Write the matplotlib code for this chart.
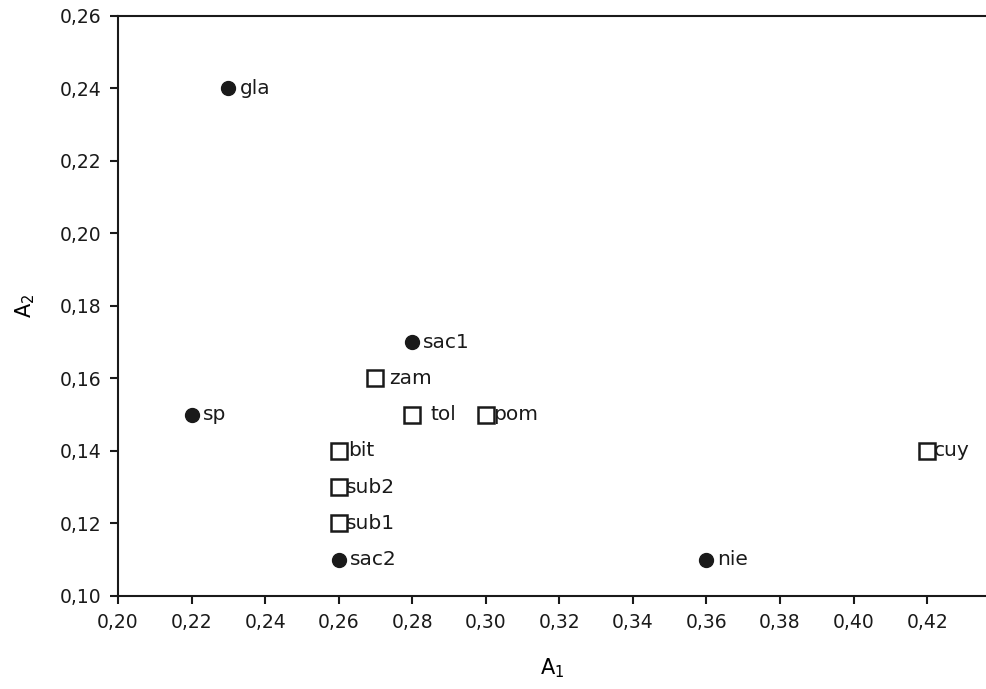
import matplotlib
matplotlib.use("Agg")
import matplotlib.pyplot as plt

plt.rcParams['font.family'] = ['DejaVu Sans']

# filled circles
circ_names = ["gla", "sp", "sac1", "sac2", "nie"]
circ_x = [0.23, 0.22, 0.28, 0.26, 0.36]
circ_y = [0.24, 0.15, 0.17, 0.11, 0.11]

# open squares
sq_names = ["zam", "tol", "pom", "bit", "sub2", "sub1", "cuy"]
sq_x = [0.27, 0.28, 0.30, 0.26, 0.26, 0.26, 0.42]
sq_y = [0.16, 0.15, 0.15, 0.14, 0.13, 0.12, 0.14]

xticks = [0.20, 0.22, 0.24, 0.26, 0.28, 0.30, 0.32, 0.34, 0.36, 0.38, 0.40, 0.42]
yticks = [0.10, 0.12, 0.14, 0.16, 0.18, 0.20, 0.22, 0.24, 0.26]

# label offsets in points (to the right of the marker)
sq_off = {"zam": 10, "tol": 13, "pom": 5, "bit": 7, "sub2": 5, "sub1": 5, "cuy": 5}

fig = plt.figure(figsize=(9.86, 6.89), dpi=100)
ax = fig.add_axes([0.1197, 0.135, 0.8803, 0.8418])

ax.plot(circ_x, circ_y, 'o', color='#1a1a1a', markersize=10, linestyle='none')
ax.plot(sq_x, sq_y, 's', markerfacecolor='white', markeredgecolor='#1a1a1a',
        markeredgewidth=1.8, markersize=11, linestyle='none')

for n, x, y in zip(circ_names, circ_x, circ_y):
    ax.annotate(n, (x, y), xytext=(8, 0), textcoords='offset points',
                va='center', ha='left', fontsize=14.5, color='#1a1a1a')
for n, x, y in zip(sq_names, sq_x, sq_y):
    ax.annotate(n, (x, y), xytext=(sq_off[n], 0), textcoords='offset points',
                va='center', ha='left', fontsize=14.5, color='#1a1a1a')

ax.set_xlim(0.20, 0.436)
ax.set_ylim(0.10, 0.26)
ax.set_xticks(xticks)
ax.set_xticklabels([f"{v:.2f}".replace('.', ',') for v in xticks])
ax.set_yticks(yticks)
ax.set_yticklabels([f"{v:.2f}".replace('.', ',') for v in yticks])
ax.tick_params(direction='out', length=6, width=1.5, labelsize=13.5, pad=6, colors='#1a1a1a')

ax.spines['right'].set_visible(False)
for s in ['left', 'bottom', 'top']:
    ax.spines[s].set_linewidth(1.5)
    ax.spines[s].set_color('#1a1a1a')

ax.set_xlabel('A$_1$', fontsize=15, labelpad=18)
ax.set_ylabel('A$_2$', fontsize=15, labelpad=16)

fig.savefig("out.png", dpi=100)
